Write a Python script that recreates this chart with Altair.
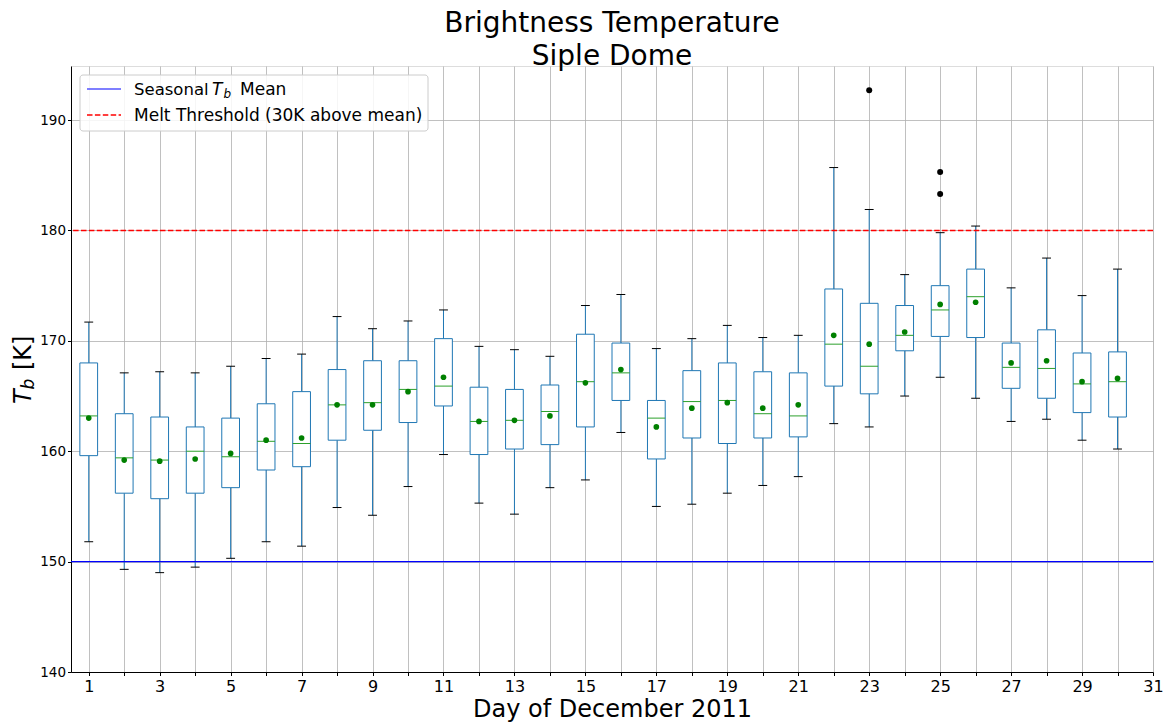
import altair as alt
import pandas as pd

# Daily brightness temperature statistics, Siple Dome, December 2011 (K)
days = list(range(1, 31))
whisker_low = [151.8, 149.3, 149.0, 149.5, 150.3, 151.8, 151.4, 154.9, 154.2, 156.8,
               159.7, 155.3, 154.3, 156.7, 157.4, 161.7, 155.0, 155.2, 156.2, 156.9,
               157.7, 162.5, 162.2, 165.0, 166.7, 164.8, 162.7, 162.9, 161.0, 160.2]
quart1 = [159.6, 156.2, 155.7, 156.2, 156.7, 158.3, 158.6, 161.0, 161.9, 162.6,
          164.1, 159.7, 160.2, 160.6, 162.2, 164.6, 159.3, 161.2, 160.7, 161.2,
          161.3, 165.9, 165.2, 169.1, 170.4, 170.3, 165.7, 164.8, 163.5, 163.1]
medians = [163.2, 159.4, 159.2, 160.0, 159.5, 160.9, 160.7, 164.2, 164.4, 165.6,
           165.9, 162.7, 162.8, 163.6, 166.3, 167.1, 163.0, 164.5, 164.6, 163.4,
           163.2, 169.7, 167.7, 170.5, 172.8, 174.0, 167.6, 167.5, 166.1, 166.3]
quart3 = [168.0, 163.4, 163.1, 162.2, 163.0, 164.3, 165.4, 167.4, 168.2, 168.2,
          170.2, 165.8, 165.6, 166.0, 170.6, 169.8, 164.6, 167.3, 168.0, 167.2,
          167.1, 174.7, 173.4, 173.2, 175.0, 176.5, 169.8, 171.0, 168.9, 169.0]
whisker_high = [171.7, 167.1, 167.2, 167.1, 167.7, 168.4, 168.8, 172.2, 171.1, 171.8,
                172.8, 169.5, 169.2, 168.6, 173.2, 174.2, 169.3, 170.2, 171.4, 170.3,
                170.5, 185.7, 181.9, 176.0, 179.8, 180.4, 174.8, 177.5, 174.1, 176.5]
means = [163.0, 159.2, 159.1, 159.3, 159.8, 161.0, 161.2, 164.2, 164.2, 165.4,
         166.7, 162.7, 162.8, 163.2, 166.2, 167.4, 162.2, 163.9, 164.4, 163.9,
         164.2, 170.5, 169.7, 170.8, 173.3, 173.5, 168.0, 168.2, 166.3, 166.6]

outlier_days = [23, 25, 25]
outlier_values = [192.7, 185.3, 183.3]

seasonal_mean = 150.0
melt_threshold = 180.0

x_ticks = list(range(1, 32))
y_ticks = [140, 150, 160, 170, 180, 190]

FONT = "DejaVu Sans"
BOX_BLUE = "#1f77b4"
MEDIAN_GREEN = "#2ca02c"

stats = pd.DataFrame({
    "day": days, "lo": whisker_low, "q1": quart1, "med": medians,
    "q3": quart3, "hi": whisker_high, "mean": means,
})
outliers = pd.DataFrame({"day": outlier_days, "value": outlier_values})
hlines = pd.DataFrame({"value": [seasonal_mean, melt_threshold],
                       "kind": ["mean", "melt"]})
one = pd.DataFrame({"k": [0]})

xscale = alt.Scale(domain=[0.5, 31], nice=False, zero=False)
yscale = alt.Scale(domain=[140, 194.9], nice=False, zero=False)

x_axis = alt.Axis(
    values=x_ticks, labelExpr="datum.value % 2 == 1 ? datum.label : ''",
    title="Day of December 2011", titleFontSize=24, titleFont=FONT,
    titleFontWeight="normal", titleColor="black", titlePadding=3,
    labelFontSize=16, labelFont=FONT, labelColor="black", labelPadding=3,
    tickSize=3.5, tickColor="black", domainColor="black",
    grid=True, gridColor="#b0b0b0", gridWidth=0.8, labelFlush=False,
)
y_axis = alt.Axis(
    values=y_ticks, title="", labelFontSize=13.5, labelFont=FONT,
    labelColor="black", labelPadding=2, tickSize=3.5, tickColor="black",
    domainColor="black", grid=True, gridColor="#b0b0b0", gridWidth=0.8,
)


def X(field):
    return alt.X(field, type="quantitative", scale=xscale, axis=x_axis)


def Y(field):
    return alt.Y(field, type="quantitative", scale=yscale, axis=y_axis)


base = alt.Chart(stats).transform_calculate(
    left="datum.day - 0.25", right="datum.day + 0.25",
    capl="datum.day - 0.125", capr="datum.day + 0.125",
)

# whiskers
whisk_low = base.mark_rule(color=BOX_BLUE, strokeWidth=1).encode(
    x=X("day"), y=Y("lo"), y2="q1:Q")
whisk_high = base.mark_rule(color=BOX_BLUE, strokeWidth=1).encode(
    x=X("day"), y=Y("q3"), y2="hi:Q")
# whisker caps
cap_low = base.mark_rule(color="black", strokeWidth=1).encode(
    x=X("capl"), x2="capr:Q", y=Y("lo"))
cap_high = base.mark_rule(color="black", strokeWidth=1).encode(
    x=X("capl"), x2="capr:Q", y=Y("hi"))
# interquartile boxes
boxes = base.mark_rect(fill="white", stroke=BOX_BLUE, strokeWidth=1).encode(
    x=X("left"), x2="right:Q", y=Y("q1"), y2="q3:Q")
median_lines = base.mark_rule(color=MEDIAN_GREEN, strokeWidth=1).encode(
    x=X("left"), x2="right:Q", y=Y("med"))
mean_dots = base.mark_point(filled=True, color="#008000", size=32, opacity=1).encode(
    x=X("day"), y=Y("mean"))
outlier_dots = alt.Chart(outliers).mark_point(
    filled=True, color="black", size=36, opacity=1
).encode(x=X("day"), y=Y("value"))

mean_line = alt.Chart(hlines).transform_filter("datum.kind == 'mean'").mark_rule(
    color="#0000ff", strokeWidth=1.2
).encode(y=Y("value"))
melt_line = alt.Chart(hlines).transform_filter("datum.kind == 'melt'").mark_rule(
    color="#ff0000", strokeWidth=1.4, strokeDash=[5.5, 2.4]
).encode(y=Y("value"))

# legend panel
leg_box = alt.Chart(one).mark_rect(
    fill="white", fillOpacity=0.85, stroke="#cccccc", strokeWidth=1, cornerRadius=3
).encode(x=alt.value(9), x2=alt.value(357), y=alt.value(9), y2=alt.value(65))
leg_blue = alt.Chart(one).mark_rule(color="#0000ff", strokeWidth=1.2).encode(
    x=alt.value(16), x2=alt.value(50), y=alt.value(23))
leg_red = alt.Chart(one).mark_rule(
    color="#ff0000", strokeWidth=1.4, strokeDash=[5.5, 2.4]
).encode(x=alt.value(16), x2=alt.value(50), y=alt.value(49))


def label(text, x, y, size, style="normal", angle=0):
    return alt.Chart(one).mark_text(
        text=text, font=FONT, fontSize=size, fontStyle=style, color="black",
        align="left", baseline="alphabetic", angle=angle,
    ).encode(x=alt.value(x), y=alt.value(y))


legend_texts = [
    label("Seasonal", 63, 29, 16.5),
    label("T", 141, 29, 17, "italic"),
    label("b", 152.5, 32, 12, "italic"),
    label("Mean", 169, 29, 17),
    label("Melt Threshold (30K above mean)", 63, 55, 17),
]

# y-axis title: T_b [K]
y_title = [
    label("T", -40, 338, 24, "italic", 270),
    label("b", -37, 323.5, 17, "italic", 270),
    label("[K]", -40, 304, 24, "normal", 270),
]

chart = alt.layer(
    whisk_low, whisk_high, cap_low, cap_high, boxes, median_lines,
    mean_line, melt_line, mean_dots, outlier_dots,
    leg_box, leg_blue, leg_red, *legend_texts, *y_title,
).properties(
    width=1082, height=606,
    title=alt.TitleParams(
        text=["Brightness Temperature", "Siple Dome"], fontSize=28, font=FONT,
        fontWeight="normal", color="black", anchor="middle", lineHeight=33,
        offset=-5,
    ),
    autosize=alt.AutoSizeParams(type="none"),
    padding={"left": 71, "top": 66, "right": 15, "bottom": 52},
).configure_view(stroke="black", strokeWidth=1).configure(background="white")

chart.save("out.html", embed_options={"renderer": "svg", "actions": False})
